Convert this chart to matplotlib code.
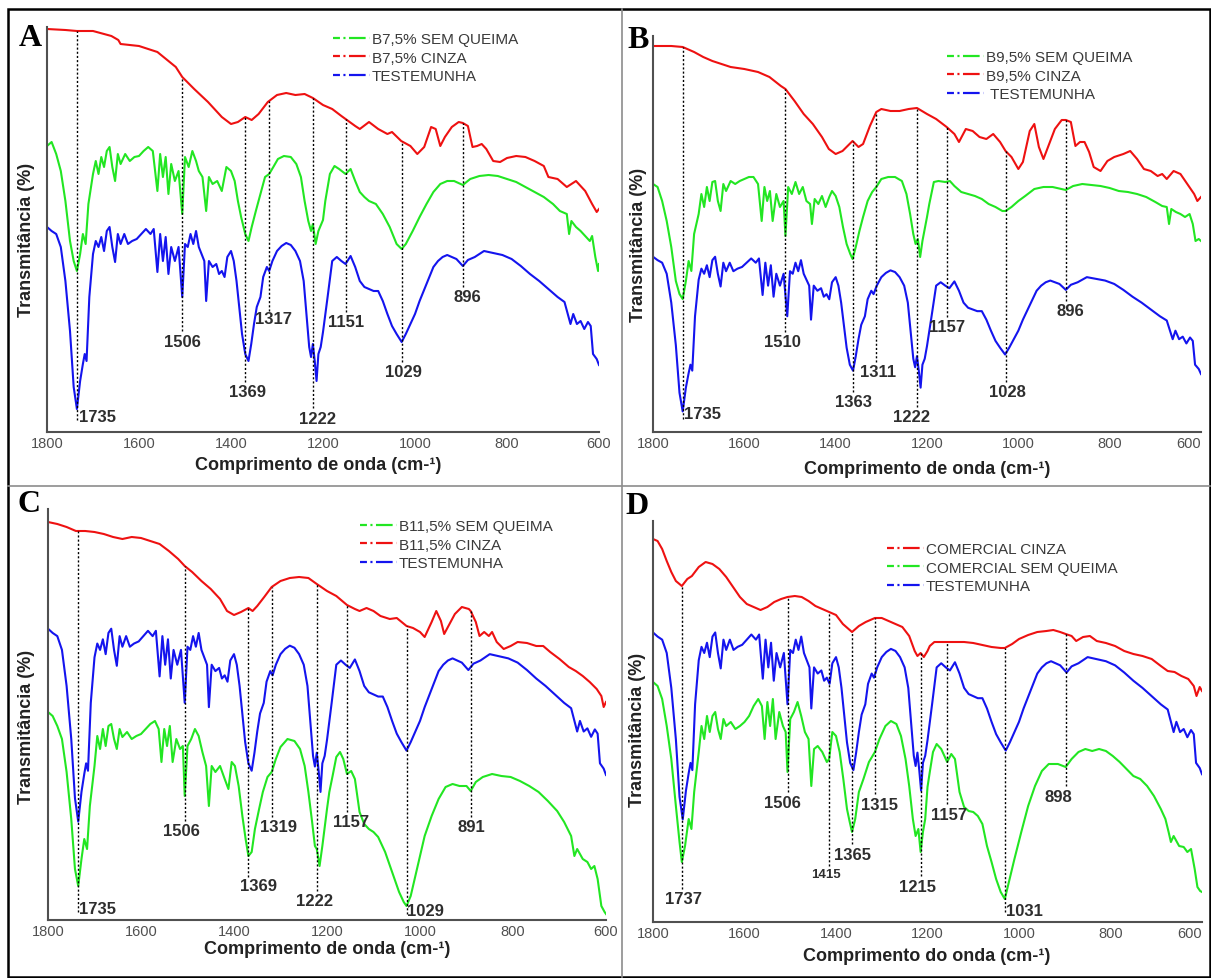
import numpy as np
import matplotlib.pyplot as plt
import matplotlib.transforms as mtransforms
from matplotlib.lines import Line2D
from matplotlib.patches import Rectangle

plt.rcParams['font.family'] = ['Liberation Sans', 'DejaVu Sans']
plt.rcParams['lines.scale_dashes'] = False

W, H = 1211, 979

# spectra: (wavenumber cm-1, transmittance in stacked arbitrary units)
testemunha = [
    (1800, 205), (1790, 201), (1780, 198), (1770, 185), (1760, 151), (1750, 101), (1742, 45), (1735, 23),
    (1728, 51), (1722, 68), (1718, 78), (1714, 71), (1708, 135), (1700, 178), (1694, 191), (1688, 185),
    (1682, 195), (1676, 181), (1670, 201), (1664, 205), (1658, 185), (1652, 170), (1646, 198), (1640, 188),
    (1632, 198), (1624, 188), (1615, 191), (1605, 193), (1595, 198), (1585, 203), (1575, 198), (1568, 203),
    (1560, 160), (1554, 198), (1548, 171), (1542, 195), (1536, 158), (1530, 185), (1522, 171), (1514, 185),
    (1506, 135), (1500, 188), (1494, 185), (1488, 198), (1482, 188), (1476, 201), (1470, 185), (1464, 178),
    (1458, 171), (1454, 131), (1448, 171), (1440, 165), (1432, 168), (1426, 158), (1420, 161), (1414, 155),
    (1408, 175), (1400, 181), (1394, 171), (1388, 151), (1382, 125), (1376, 98), (1369, 78), (1362, 71),
    (1356, 88), (1350, 108), (1344, 125), (1336, 135), (1330, 155), (1322, 165), (1317, 161), (1310, 171),
    (1300, 181), (1290, 186), (1280, 189), (1270, 187), (1260, 181), (1250, 171), (1242, 151), (1236, 118),
    (1230, 85), (1226, 75), (1222, 88), (1218, 71), (1214, 51), (1210, 78), (1205, 85), (1200, 100),
    (1190, 135), (1180, 171), (1170, 175), (1160, 171), (1151, 168), (1140, 176), (1130, 165), (1120, 151),
    (1110, 145), (1100, 143), (1090, 141), (1080, 141), (1070, 131), (1060, 118), (1050, 106), (1040, 98),
    (1029, 90), (1020, 98), (1010, 108), (1000, 118), (990, 131), (975, 148), (960, 165), (950, 171),
    (940, 175), (930, 177), (920, 175), (910, 173), (896, 166), (885, 172), (870, 175), (850, 181),
    (830, 179), (810, 177), (790, 173), (770, 166), (750, 158), (730, 151), (710, 143), (690, 135),
    (675, 130), (668, 118), (662, 108), (656, 118), (648, 108), (640, 111), (632, 103), (624, 110),
    (618, 106), (613, 78), (605, 73), (600, 67),
]

a_sem_queima = [
    (1800, 286), (1790, 290), (1780, 278), (1770, 261), (1760, 231), (1750, 191), (1742, 171), (1735, 161),
    (1728, 178), (1722, 198), (1716, 188), (1710, 228), (1700, 258), (1694, 271), (1688, 258), (1682, 275),
    (1676, 265), (1670, 281), (1664, 285), (1658, 265), (1652, 251), (1646, 278), (1640, 268), (1630, 278),
    (1620, 271), (1610, 275), (1600, 276), (1590, 281), (1580, 285), (1570, 281), (1560, 241), (1554, 278),
    (1548, 255), (1542, 275), (1536, 238), (1530, 268), (1522, 251), (1514, 261), (1506, 218), (1500, 275),
    (1492, 265), (1484, 281), (1476, 271), (1470, 261), (1462, 255), (1454, 221), (1448, 255), (1440, 248),
    (1430, 251), (1420, 241), (1410, 265), (1400, 261), (1392, 251), (1385, 231), (1378, 215), (1369, 198),
    (1362, 191), (1355, 205), (1346, 221), (1336, 238), (1326, 255), (1317, 258), (1308, 265), (1298, 273),
    (1285, 276), (1270, 275), (1258, 268), (1248, 255), (1240, 231), (1232, 211), (1226, 201), (1222, 208),
    (1216, 188), (1210, 201), (1200, 212), (1195, 231), (1185, 258), (1175, 266), (1165, 263), (1151, 258),
    (1140, 263), (1130, 251), (1120, 240), (1110, 235), (1100, 231), (1085, 228), (1070, 218), (1055, 205),
    (1040, 188), (1029, 183), (1020, 188), (1005, 201), (990, 215), (975, 228), (960, 240), (945, 248),
    (930, 251), (915, 251), (896, 247), (880, 253), (860, 256), (840, 257), (820, 256), (800, 253),
    (780, 250), (760, 245), (740, 240), (720, 235), (700, 228), (685, 221), (670, 218), (665, 198),
    (660, 211), (650, 205), (640, 201), (630, 196), (620, 191), (615, 196), (608, 175), (602, 161), (600, 168),
]

a_cinza = [
    (1800, 403), (1760, 402), (1735, 401), (1700, 401), (1660, 396), (1645, 392), (1640, 388), (1600, 386),
    (1560, 380), (1520, 365), (1506, 355), (1480, 343), (1450, 330), (1420, 315), (1400, 308), (1385, 310),
    (1369, 315), (1355, 312), (1340, 318), (1320, 330), (1300, 337), (1280, 339), (1260, 337), (1240, 338),
    (1222, 334), (1200, 327), (1180, 323), (1160, 316), (1151, 313), (1130, 306), (1120, 303), (1100, 310),
    (1080, 303), (1060, 298), (1050, 300), (1030, 291), (1010, 286), (995, 278), (980, 285), (965, 305),
    (955, 303), (945, 286), (935, 295), (920, 305), (905, 310), (896, 309), (885, 306), (875, 285),
    (865, 286), (855, 288), (845, 283), (830, 271), (815, 270), (800, 274), (780, 276), (760, 275),
    (740, 271), (720, 266), (710, 255), (690, 253), (670, 245), (650, 251), (630, 241), (615, 228),
    (605, 220), (600, 223),
]

b_sem_queima = [
    (1800, 248), (1790, 245), (1780, 231), (1770, 211), (1760, 185), (1750, 151), (1742, 138), (1735, 133),
    (1728, 151), (1722, 171), (1716, 161), (1710, 198), (1700, 218), (1694, 238), (1688, 225), (1682, 245),
    (1676, 231), (1670, 250), (1664, 251), (1658, 231), (1652, 221), (1646, 248), (1640, 241), (1630, 251),
    (1620, 248), (1610, 251), (1600, 253), (1590, 255), (1580, 255), (1570, 248), (1562, 211), (1556, 245),
    (1550, 231), (1544, 241), (1538, 211), (1530, 238), (1522, 225), (1514, 231), (1510, 196), (1504, 245),
    (1496, 238), (1488, 250), (1480, 238), (1472, 245), (1464, 231), (1456, 228), (1452, 208), (1446, 233),
    (1438, 228), (1430, 236), (1422, 225), (1414, 235), (1408, 241), (1400, 236), (1392, 225), (1384, 205),
    (1376, 188), (1368, 178), (1363, 173), (1356, 185), (1348, 201), (1340, 215), (1330, 231), (1320, 240),
    (1311, 245), (1300, 253), (1285, 255), (1270, 255), (1255, 251), (1245, 238), (1237, 218), (1230, 198),
    (1225, 188), (1220, 193), (1215, 175), (1210, 191), (1200, 215), (1195, 228), (1185, 250), (1175, 251),
    (1160, 250), (1150, 251), (1140, 246), (1125, 240), (1110, 238), (1095, 236), (1080, 233), (1065, 228),
    (1050, 225), (1035, 221), (1028, 221), (1015, 225), (1000, 231), (985, 236), (965, 243), (945, 245),
    (925, 245), (896, 242), (880, 246), (860, 248), (840, 247), (820, 246), (800, 244), (780, 241),
    (760, 240), (740, 238), (720, 235), (700, 230), (685, 226), (675, 225), (670, 208), (665, 223),
    (655, 220), (645, 218), (635, 215), (625, 218), (618, 208), (612, 191), (605, 193), (600, 191),
]

b_cinza = [
    (1800, 386), (1760, 386), (1735, 385), (1710, 380), (1690, 375), (1670, 371), (1650, 368), (1630, 365),
    (1600, 363), (1570, 360), (1545, 355), (1520, 346), (1510, 343), (1490, 331), (1470, 318), (1450, 308),
    (1430, 295), (1415, 283), (1400, 278), (1385, 281), (1363, 291), (1350, 285), (1340, 288), (1325, 306),
    (1311, 320), (1300, 323), (1280, 321), (1260, 321), (1240, 323), (1222, 324), (1200, 318), (1180, 313),
    (1157, 305), (1140, 298), (1130, 290), (1115, 303), (1100, 301), (1085, 295), (1070, 293), (1055, 298),
    (1040, 290), (1028, 281), (1015, 275), (1000, 263), (990, 270), (975, 301), (965, 308), (955, 285),
    (945, 273), (935, 285), (920, 303), (905, 312), (896, 312), (885, 310), (875, 286), (865, 290),
    (855, 290), (845, 280), (835, 265), (820, 261), (805, 271), (790, 275), (770, 278), (755, 281),
    (740, 273), (725, 263), (710, 261), (695, 256), (685, 258), (675, 253), (660, 261), (645, 258),
    (630, 248), (615, 238), (608, 231), (600, 235),
]

c_sem_queima = [
    (1800, 208), (1790, 204), (1780, 194), (1770, 181), (1760, 148), (1750, 101), (1742, 51), (1735, 34),
    (1728, 61), (1722, 81), (1716, 71), (1710, 114), (1700, 154), (1694, 184), (1688, 171), (1682, 191),
    (1676, 174), (1670, 194), (1664, 196), (1658, 181), (1652, 171), (1646, 191), (1640, 183), (1630, 188),
    (1620, 181), (1610, 184), (1600, 186), (1590, 191), (1580, 196), (1570, 199), (1562, 191), (1556, 158),
    (1550, 191), (1544, 174), (1538, 194), (1532, 158), (1524, 181), (1516, 171), (1510, 174), (1506, 124),
    (1500, 174), (1492, 181), (1484, 191), (1476, 184), (1468, 168), (1460, 154), (1454, 114), (1448, 154),
    (1440, 148), (1430, 154), (1420, 141), (1412, 131), (1405, 158), (1398, 154), (1390, 134), (1382, 104),
    (1375, 81), (1369, 64), (1362, 68), (1355, 91), (1346, 111), (1338, 128), (1328, 143), (1319, 148),
    (1310, 161), (1300, 173), (1285, 181), (1270, 179), (1258, 171), (1248, 154), (1240, 128), (1232, 98),
    (1226, 74), (1222, 71), (1216, 54), (1210, 74), (1200, 111), (1195, 128), (1188, 144), (1180, 163),
    (1172, 168), (1165, 161), (1157, 146), (1148, 149), (1140, 141), (1130, 108), (1120, 96), (1110, 91),
    (1100, 88), (1090, 83), (1075, 68), (1060, 48), (1045, 28), (1035, 18), (1029, 14), (1020, 24),
    (1005, 54), (990, 84), (975, 104), (960, 121), (945, 133), (930, 136), (915, 134), (900, 134),
    (891, 129), (880, 138), (865, 143), (845, 146), (825, 144), (805, 143), (785, 139), (765, 134),
    (745, 128), (725, 119), (705, 109), (690, 98), (675, 84), (668, 64), (662, 71), (650, 61),
    (640, 58), (632, 51), (625, 54), (618, 41), (610, 14), (603, 8), (600, 6),
]

c_cinza = [
    (1800, 398), (1780, 396), (1760, 393), (1740, 389), (1720, 389), (1700, 388), (1680, 386), (1660, 383),
    (1640, 381), (1620, 383), (1600, 382), (1580, 379), (1560, 376), (1540, 369), (1520, 361), (1506, 354),
    (1490, 348), (1470, 339), (1450, 331), (1430, 321), (1415, 309), (1400, 305), (1385, 308), (1369, 312),
    (1360, 309), (1350, 314), (1335, 323), (1319, 333), (1300, 339), (1280, 342), (1260, 343), (1240, 342),
    (1222, 336), (1200, 329), (1180, 324), (1157, 315), (1140, 311), (1130, 309), (1115, 312), (1100, 309),
    (1085, 304), (1065, 301), (1050, 302), (1029, 294), (1015, 292), (1000, 288), (990, 283), (975, 298),
    (965, 309), (955, 299), (948, 286), (940, 293), (925, 306), (910, 313), (895, 311), (891, 309),
    (880, 298), (872, 284), (862, 288), (852, 284), (845, 288), (835, 278), (820, 271), (805, 274),
    (790, 278), (770, 277), (750, 274), (735, 274), (720, 268), (700, 261), (680, 253), (665, 249),
    (650, 244), (635, 238), (620, 231), (610, 224), (605, 213), (600, 218),
]

d_cinza = [
    (1800, 383), (1790, 381), (1780, 373), (1770, 361), (1760, 350), (1750, 341), (1737, 336), (1725, 343),
    (1715, 346), (1700, 355), (1685, 360), (1670, 358), (1655, 353), (1640, 345), (1625, 335), (1610, 325),
    (1595, 318), (1580, 315), (1565, 312), (1550, 315), (1535, 320), (1520, 323), (1506, 325), (1490, 326),
    (1475, 325), (1460, 321), (1445, 316), (1430, 313), (1415, 310), (1400, 307), (1385, 298), (1365, 290),
    (1350, 296), (1335, 300), (1315, 304), (1300, 304), (1285, 301), (1270, 298), (1255, 295), (1240, 286),
    (1228, 271), (1222, 266), (1215, 269), (1208, 265), (1200, 271), (1195, 276), (1185, 280), (1170, 280),
    (1157, 280), (1140, 280), (1120, 280), (1100, 279), (1080, 277), (1060, 275), (1040, 274), (1031, 274),
    (1015, 278), (1000, 283), (980, 287), (960, 290), (940, 291), (925, 292), (910, 290), (898, 288),
    (885, 286), (875, 281), (860, 285), (845, 286), (830, 281), (810, 279), (790, 276), (770, 271),
    (750, 268), (730, 266), (710, 263), (690, 256), (675, 251), (660, 250), (645, 246), (630, 243),
    (618, 236), (612, 226), (605, 235), (600, 231),
]

d_sem_queima = [
    (1800, 240), (1790, 236), (1780, 223), (1770, 196), (1760, 163), (1750, 116), (1742, 80), (1737, 60),
    (1730, 76), (1722, 103), (1716, 93), (1710, 130), (1700, 170), (1694, 196), (1688, 183), (1682, 206),
    (1676, 190), (1670, 206), (1664, 210), (1658, 193), (1652, 183), (1646, 203), (1640, 196), (1630, 200),
    (1620, 193), (1610, 196), (1600, 200), (1590, 206), (1580, 216), (1570, 223), (1562, 216), (1556, 183),
    (1550, 220), (1544, 196), (1538, 223), (1532, 183), (1524, 210), (1516, 196), (1510, 190), (1506, 150),
    (1500, 203), (1492, 210), (1484, 220), (1476, 206), (1468, 190), (1460, 183), (1454, 136), (1448, 173),
    (1440, 176), (1430, 170), (1420, 160), (1415, 163), (1408, 190), (1400, 186), (1392, 170), (1384, 143),
    (1376, 113), (1370, 100), (1365, 90), (1358, 103), (1350, 130), (1340, 143), (1328, 160), (1315, 170),
    (1305, 183), (1292, 196), (1280, 201), (1268, 198), (1258, 186), (1248, 163), (1240, 136), (1232, 103),
    (1226, 86), (1220, 93), (1215, 70), (1210, 90), (1205, 103), (1200, 135), (1195, 150), (1188, 170),
    (1180, 178), (1170, 173), (1162, 165), (1157, 160), (1148, 168), (1140, 163), (1130, 130), (1120, 115),
    (1110, 111), (1100, 110), (1090, 106), (1080, 98), (1070, 76), (1060, 60), (1050, 43), (1040, 30),
    (1031, 23), (1022, 40), (1010, 63), (995, 90), (980, 116), (965, 136), (950, 151), (935, 158),
    (915, 158), (898, 155), (885, 163), (870, 170), (855, 173), (840, 171), (825, 173), (810, 171),
    (795, 166), (780, 160), (765, 153), (750, 146), (735, 143), (720, 136), (705, 126), (690, 113),
    (680, 103), (673, 90), (668, 80), (662, 86), (650, 76), (640, 75), (632, 70), (624, 73),
    (616, 53), (610, 35), (604, 31), (600, 30),
]

# marked bands: (line wavenumber, line bottom, label, label x, label y, alignment)
a_peaks = [(1735, 12, "1735", 1730, 15, "left"), (1506, 101, "1506", 1506, 90, "center"),
           (1369, 50, "1369", 1365, 40, "center"), (1317, 121, "1317", 1307, 113, "center"),
           (1222, 24, "1222", 1211, 13, "center"), (1151, 120, "1151", 1150, 110, "center"),
           (1029, 70, "1029", 1026, 60, "center"), (896, 145, "896", 887, 135, "center")]
b_peaks = [(1735, 13, "1735", 1733, 18, "left"), (1510, 100, "1510", 1517, 90, "center"),
           (1363, 40, "1363", 1360, 30, "center"), (1311, 70, "1311", 1308, 60, "center"),
           (1222, 25, "1222", 1235, 15, "center"), (1157, 115, "1157", 1156, 105, "center"),
           (1028, 50, "1028", 1023, 40, "center"), (896, 131, "896", 885, 121, "center")]
c_peaks = [(1735, 8, "1735", 1733, 11, "left"), (1506, 99, "1506", 1512, 89, "center"),
           (1369, 43, "1369", 1348, 34, "center"), (1319, 103, "1319", 1305, 93, "center"),
           (1222, 29, "1222", 1226, 19, "center"), (1157, 108, "1157", 1148, 98, "center"),
           (1029, 6, "1029", 1027, 9, "left"), (891, 103, "891", 890, 93, "center")]
d_peaks = [(1737, 33, "1737", 1734, 23, "center"), (1506, 130, "1506", 1518, 120, "center"),
           (1415, 56, "1415", 1422, 48, "center"), (1365, 78, "1365", 1365, 68, "center"),
           (1315, 128, "1315", 1304, 118, "center"), (1215, 46, "1215", 1221, 36, "center"),
           (1157, 118, "1157", 1153, 108, "center"), (1031, 10, "1031", 1028, 11, "left"),
           (898, 136, "898", 915, 126, "center")]

RED, GREEN, BLUE = "#ee1111", "#22e622", "#1414ee"

panels = [
    dict(letter="A", box=(47, 28, 599, 433), series=[(a_sem_queima, GREEN), (a_cinza, RED)],
         blue=(1.0, 0), peaks=a_peaks, red=a_cinza,
         legend=[("B7,5% SEM QUEIMA", GREEN), ("B7,5% CINZA", RED), ("TESTEMUNHA", BLUE)],
         leg_xy=(333, 33), letter_xy=(30, 38), ylab_xy=(27, 240), xlab_xy=(318, 466),
         xlabel="Comprimento de onda (cm-¹)"),
    dict(letter="B", box=(653, 37, 1201, 433), series=[(b_sem_queima, GREEN), (b_cinza, RED)],
         blue=(0.85, 1), peaks=b_peaks, red=b_cinza,
         legend=[("B9,5% SEM QUEIMA", GREEN), ("B9,5% CINZA", RED), (" TESTEMUNHA", BLUE)],
         leg_xy=(947, 51), letter_xy=(638, 41), ylab_xy=(639, 245), xlab_xy=(927, 470),
         xlabel="Comprimento de onda (cm-¹)"),
    dict(letter="C", box=(48, 510, 606, 921), series=[(c_sem_queima, GREEN), (c_cinza, RED)],
         blue=(1.06, 74), peaks=c_peaks, red=c_cinza,
         legend=[("B11,5% SEM QUEIMA", GREEN), ("B11,5% CINZA", RED), ("TESTEMUNHA", BLUE)],
         leg_xy=(360, 520), letter_xy=(29, 505), ylab_xy=(27, 727), xlab_xy=(327, 950),
         xlabel="Comprimento de onda (cm-¹)"),
    dict(letter="D", box=(653, 522, 1202, 923), series=[(d_sem_queima, GREEN), (d_cinza, RED)],
         blue=(1.027, 79), peaks=d_peaks, red=d_cinza,
         legend=[("COMERCIAL CINZA", RED), ("COMERCIAL SEM QUEIMA", GREEN), ("TESTEMUNHA", BLUE)],
         leg_xy=(887, 543), letter_xy=(637, 506), ylab_xy=(637, 730), xlab_xy=(927, 957),
         xlabel="Comprimento do onda (cm-¹)"),
]


def fx(x):
    return x / W


def fy(y):
    return 1 - y / H


fig = plt.figure(figsize=(W / 100, H / 100), dpi=100)

for p in panels:
    l, t, r, b = p["box"]
    ax = fig.add_axes([fx(l), fy(b), (r - l) / W, (b - t) / H])
    ax.set_facecolor("none")

    # control spectrum is shared; its stacking offset is applied by a transform
    s, c = p["blue"]
    tr = mtransforms.Affine2D().scale(1, s).translate(0, c) + ax.transData
    tx, ty = np.array(testemunha, dtype=float).T
    ax.plot(tx, ty, color=BLUE, lw=1.5, transform=tr)
    for data, col in p["series"]:
        x, y = np.array(data, dtype=float).T
        ax.plot(x, y, color=col, lw=1.5)

    rx, ry = np.array(p["red"], dtype=float).T
    for wn, bottom, lab, lx, ly, ha in p["peaks"]:
        top = np.interp(wn, rx[::-1], ry[::-1])
        ax.plot([wn, wn], [bottom, top], color="black", lw=1.0, linestyle=(0, (1.5, 1.5)))
        size = 9.5 if lab == "1415" else 12
        ax.text(lx, ly, lab, ha=ha, va="center", fontsize=size, fontweight="bold", color="#2e2e2e")

    ax.set_xlim(1800, 600)
    ax.set_ylim(0, b - t)
    ax.set_xticks([1800, 1600, 1400, 1200, 1000, 800, 600])
    ax.set_yticks([])
    ax.tick_params(axis="x", length=0, pad=3, labelsize=10.5, labelcolor="#505050")
    if r > 1150:
        # keep the last tick label inside the figure on the right-hand panels
        ax.get_xticklabels()[-1].set_horizontalalignment("right")
    for side in ["top", "right"]:
        ax.spines[side].set_visible(False)
    for side in ["left", "bottom"]:
        ax.spines[side].set_color("#505050")
        ax.spines[side].set_linewidth(1.5)

    handles = [Line2D([], [], color=col, lw=1.6, dashes=(5, 2.5, 1.5, 2.5, 12, 3))
               for _, col in p["legend"]]
    lx, ly = p["leg_xy"]
    leg = ax.legend(handles, [n for n, _ in p["legend"]], loc="upper left",
                    bbox_to_anchor=(fx(lx), fy(ly)), bbox_transform=fig.transFigure,
                    frameon=False, fontsize=11, handlelength=2.4, handletextpad=0.15,
                    labelspacing=0.3, borderpad=0, borderaxespad=0)
    for txt in leg.get_texts():
        txt.set_color("#3a3a3a")

    x0, y0 = p["letter_xy"]
    fig.text(fx(x0), fy(y0), p["letter"], ha="center", va="center", fontsize=23,
             fontweight="bold", family="Liberation Serif")
    x0, y0 = p["ylab_xy"]
    fig.text(fx(x0), fy(y0), "Transmitância (%)", rotation=90, ha="center", va="center",
             fontsize=13, fontweight="bold", color="#222222")
    x0, y0 = p["xlab_xy"]
    fig.text(fx(x0), fy(y0), p["xlabel"], ha="center", va="center",
             fontsize=13, fontweight="bold", color="#222222")

# frame around the figure and the panel dividers
fig.add_artist(Rectangle((fx(8), fy(978)), (1210 - 8) / W, (978 - 10) / H,
                         transform=fig.transFigure, fill=False, edgecolor="black", lw=1.8))
fig.add_artist(Line2D([fx(622), fx(622)], [fy(10), fy(978)], transform=fig.transFigure,
                      color="#8c8c8c", lw=1.2))
fig.add_artist(Line2D([fx(8), fx(1210)], [fy(487), fy(487)], transform=fig.transFigure,
                      color="#8c8c8c", lw=1.2))

fig.savefig("out.png", dpi=100)
